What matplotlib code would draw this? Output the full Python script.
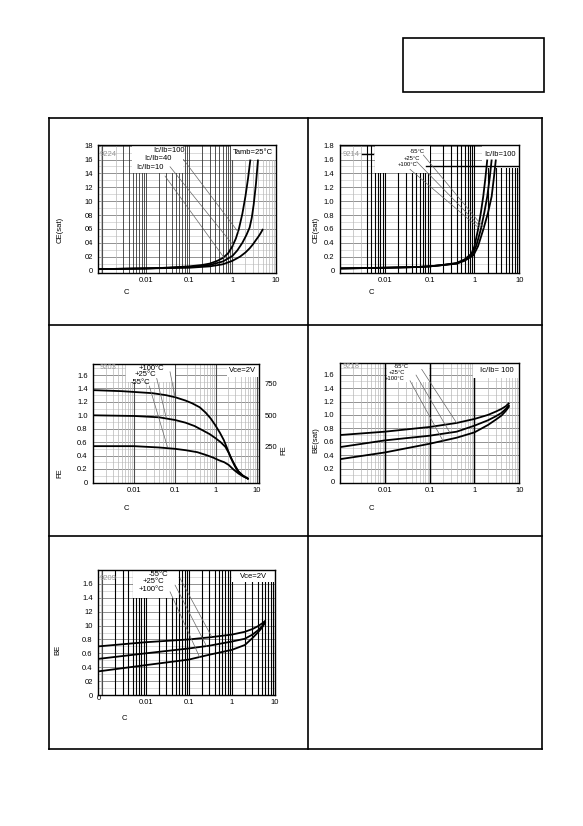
import matplotlib

matplotlib.use("Agg")
import matplotlib.pyplot as plt
from matplotlib.lines import Line2D
from matplotlib.patches import Rectangle

plt.rcParams["font.family"] = ["Liberation Sans", "DejaVu Sans"]

W, H = 583, 826
FS = 5.5

# ---- chart 1: VCE(sat) vs IC, three IC/IB ratios, Tamb = 25 C
IC_R100 = [0.0008, 0.003, 0.01, 0.03, 0.1, 0.2, 0.3, 0.45, 0.6, 0.8, 1.0, 1.2, 1.4, 1.7, 2.0, 2.3, 2.6]
VCE_R100 = [0.02, 0.025, 0.03, 0.04, 0.06, 0.08, 0.10, 0.14, 0.18, 0.25, 0.35, 0.46, 0.59, 0.82, 1.07, 1.33, 1.60]
IC_R40 = [0.0008, 0.01, 0.1, 0.3, 0.6, 1.0, 1.3, 1.7, 2.1, 2.5, 2.8, 3.1, 3.5, 3.9]
VCE_R40 = [0.02, 0.03, 0.05, 0.08, 0.13, 0.21, 0.29, 0.40, 0.51, 0.62, 0.76, 0.95, 1.25, 1.60]
IC_R10 = [0.0008, 0.01, 0.1, 0.3, 0.6, 1.0, 1.5, 2.0, 2.5, 3.0, 3.5, 4.0, 4.5, 5.1]
VCE_R10 = [0.02, 0.03, 0.04, 0.06, 0.09, 0.14, 0.20, 0.26, 0.32, 0.38, 0.44, 0.49, 0.54, 0.60]
C1_YTICKS = [0, 0.2, 0.4, 0.6, 0.8, 1.0, 1.2, 1.4, 1.6, 1.8]
C1_YLABELS = ["0", "02", "04", "06", "08", "10", "12", "14", "16", "18"]

# ---- chart 2: VCE(sat) vs IC at three temperatures, IC/IB = 100
IC2_P100 = [0.001, 0.01, 0.05, 0.1, 0.2, 0.4, 0.6, 0.85, 1.0, 1.2, 1.4, 1.57, 1.75, 1.93]
VCE2_P100 = [0.03, 0.04, 0.05, 0.06, 0.08, 0.11, 0.16, 0.24, 0.35, 0.59, 0.85, 1.07, 1.33, 1.60]
IC2_P25 = [0.001, 0.01, 0.05, 0.1, 0.2, 0.4, 0.6, 0.9, 1.1, 1.38, 1.65, 1.93, 2.2, 2.42]
VCE2_P25 = [0.03, 0.04, 0.05, 0.06, 0.08, 0.10, 0.15, 0.23, 0.36, 0.59, 0.83, 1.07, 1.35, 1.60]
IC2_M55 = [0.001, 0.01, 0.05, 0.1, 0.2, 0.4, 0.6, 0.95, 1.2, 1.57, 2.0, 2.42, 2.7, 3.0]
VCE2_M55 = [0.03, 0.04, 0.05, 0.06, 0.08, 0.10, 0.14, 0.22, 0.35, 0.59, 0.83, 1.07, 1.33, 1.60]
C2_YTICKS = [0, 0.2, 0.4, 0.6, 0.8, 1.0, 1.2, 1.4, 1.6, 1.8]
C2_YLABELS = ["0", "0.2", "0.4", "0.6", "0.8", "1.0", "1.2", "1.4", "1.6", "1.8"]

# ---- chart 3: normalised hFE vs IC, VCE = 2V
IC3_P100 = [0.001, 0.005, 0.028, 0.06, 0.1, 0.18, 0.26, 0.4, 0.56, 0.75, 0.97,
            1.25, 1.56, 1.9, 2.26, 2.8, 3.3, 4.5, 6.3]
HFE3_P100 = [1.375, 1.36, 1.33, 1.30, 1.27, 1.22, 1.18, 1.12, 1.04, 0.95, 0.85,
             0.74, 0.63, 0.50, 0.38, 0.26, 0.18, 0.10, 0.05]
IC3_P25 = [0.001, 0.01, 0.041, 0.1, 0.18, 0.3, 0.46, 0.7, 0.97, 1.3, 1.7, 2.1,
           2.5, 3.0, 3.6, 4.6, 6.3]
HFE3_P25 = [1.0, 0.99, 0.97, 0.93, 0.89, 0.84, 0.78, 0.72, 0.66, 0.60, 0.53, 0.43,
            0.33, 0.24, 0.16, 0.10, 0.05]
IC3_M55 = [0.001, 0.01, 0.041, 0.1, 0.18, 0.35, 0.56, 0.85, 1.18, 1.6, 2.05, 2.7,
           3.6, 4.6, 6.3]
HFE3_M55 = [0.54, 0.54, 0.52, 0.50, 0.48, 0.45, 0.41, 0.37, 0.33, 0.30, 0.26, 0.19,
            0.13, 0.09, 0.05]
C3_YTICKS = [0, 0.2, 0.4, 0.6, 0.8, 1.0, 1.2, 1.4, 1.6]
C3_YLABELS = ["0", "0.2", "0.4", "0.6", "0.8", "1.0", "1.2", "1.4", "1.6"]
C3_RTICKS = [250, 500, 750]

# ---- chart 4: VBE(sat) vs IC, IC/IB = 100
IC4 = [0.001, 0.01, 0.1, 0.4, 1, 2, 3, 4, 5, 6]
VBES_M55 = [0.70, 0.75, 0.82, 0.88, 0.94, 1.00, 1.05, 1.09, 1.13, 1.18]
VBES_P25 = [0.52, 0.62, 0.69, 0.75, 0.84, 0.92, 0.98, 1.03, 1.09, 1.15]
VBES_P100 = [0.34, 0.44, 0.57, 0.66, 0.74, 0.85, 0.93, 0.99, 1.06, 1.13]
C4_YTICKS = [0, 0.2, 0.4, 0.6, 0.8, 1.0, 1.2, 1.4, 1.6]
C4_YLABELS = ["0", "0.2", "0.4", "0.6", "0.8", "1.0", "1.2", "1.4", "1.6"]

# ---- chart 5: VBE vs IC, VCE = 2V
IC5 = [0.0008, 0.01, 0.1, 0.3, 1, 2, 3, 4, 5, 6]
VBE_M55 = [0.70, 0.76, 0.80, 0.83, 0.87, 0.91, 0.95, 0.99, 1.03, 1.07]
VBE_P25 = [0.52, 0.60, 0.67, 0.71, 0.77, 0.81, 0.87, 0.93, 0.99, 1.06]
VBE_P100 = [0.34, 0.43, 0.51, 0.58, 0.65, 0.72, 0.82, 0.90, 0.97, 1.05]
C5_YTICKS = [0, 0.2, 0.4, 0.6, 0.8, 1.0, 1.2, 1.4, 1.6]
C5_YLABELS = ["0", "02", "0.4", "0.6", "0.8", "10", "12", "1.4", "1.6"]

XTICKS = [0.01, 0.1, 1, 10]
XLABELS = ["0.01", "0.1", "1", "10"]

fig = plt.figure(figsize=(W / 100, H / 100), dpi=100)


def fx(x, y):
    return (x / W, 1 - y / H)


def ftext(x, y, s, **kw):
    kw.setdefault("fontsize", FS)
    fig.text(x / W, 1 - y / H, s, **kw)


def fline(x0, y0, x1, y1, lw=1.2):
    fig.add_artist(Line2D([x0 / W, x1 / W], [1 - y0 / H, 1 - y1 / H],
                          transform=fig.transFigure, color="k", lw=lw))


def new_axes(x0, y0, x1, y1, xlim, ylim, yticks, ylabels, dark=None,
             dark_style=("k", 0.8)):
    ax = fig.add_axes([x0 / W, 1 - y1 / H, (x1 - x0) / W, (y1 - y0) / H])
    ax.set_xscale("log")
    ax.set_xlim(*xlim)
    ax.set_ylim(*ylim)
    ax.set_xticks(XTICKS, XLABELS)
    ax.minorticks_off()
    ax.set_yticks(yticks, ylabels)
    ax.tick_params(length=0, labelsize=FS)
    ax.tick_params(axis="x", pad=3)
    ax.tick_params(axis="y", pad=4)
    for s in ax.spines.values():
        s.set_linewidth(1.0)
    # printed log grid of the datasheet
    for e in range(-4, 2):
        for k in range(1, 10):
            x = k * 10.0 ** e
            if not (xlim[0] < x < xlim[1]):
                continue
            if dark and dark[0] <= x <= dark[1]:
                c, lw = dark_style
            elif k == 1:
                c, lw = "0.3", 0.8
            else:
                c, lw = "0.72", 0.5
            ax.axvline(x, color=c, lw=lw, zorder=0.6)
    for i in range(1, int(ylim[1] * 10) + 1):
        ax.axhline(i / 10, color="0.5" if i % 2 == 0 else "0.78",
                   lw=0.6 if i % 2 == 0 else 0.45, zorder=0.5)
    return ax


def white(ax, x0, y0, x1, y1):
    ax.add_patch(Rectangle(fx(x0, y1), (x1 - x0) / W, (y1 - y0) / H,
                           transform=fig.transFigure, facecolor="white",
                           edgecolor="none", zorder=1))


def leader(ax, x0, y0, xy):
    ax.annotate("", xy=xy, xycoords="data", xytext=fx(x0, y0),
                textcoords="figure fraction", annotation_clip=False,
                arrowprops=dict(arrowstyle="-", lw=0.5, color="0.4",
                                shrinkA=0, shrinkB=0))


def curve(ax, x, y):
    ax.plot(x, y, color="k", lw=1.3, zorder=3, solid_capstyle="butt",
            solid_joinstyle="round")


# ---- page frame
fline(49.3, 118.3, 542.3, 118.3)
fline(49.3, 749.3, 542.3, 749.3)
fline(49.3, 118.3, 49.3, 749.3)
fline(542.3, 118.3, 542.3, 749.3)
fline(308.3, 118.3, 308.3, 749.3)
fline(49.3, 325, 542.3, 325)
fline(49.3, 535.7, 542.3, 535.7)
fig.add_artist(Rectangle(fx(402.7, 92), (544 - 402.7) / W, (92 - 38.3) / H,
                         transform=fig.transFigure, fill=False, lw=1.2))

# ---- chart 1
ax1 = new_axes(98.3, 145, 275.7, 273.3, (0.0008, 10), (-0.04, 1.81),
               C1_YTICKS, C1_YLABELS, dark=(0.003, 0.9), dark_style=("0.2", 0.6))
white(ax1, 131.7, 145, 183.3, 173.3)
white(ax1, 230.5, 145, 275.7, 160)
curve(ax1, IC_R100, VCE_R100)
curve(ax1, IC_R40, VCE_R40)
curve(ax1, IC_R10, VCE_R10)
leader(ax1, 183.3, 159.3, (1.42, 0.54))
leader(ax1, 170, 166.7, (1.09, 0.35))
leader(ax1, 165, 176, (0.65, 0.18))
ftext(153, 151, "Ic/Ib=100", va="center")
ftext(144, 159, "Ic/Ib=40", va="center")
ftext(136, 167.3, "Ic/Ib=10", va="center")
ftext(253, 153, "Tamb=25°C", ha="center", va="center")
ftext(100, 154, "9224", va="center", color="0.6")
ftext(60, 230, "CE(sat)", rotation=90, ha="center", va="center")
ftext(126, 292, "C", ha="center", va="center")

# ---- chart 2
ax2 = new_axes(340, 145, 519.3, 273.3, (0.001, 10), (-0.04, 1.81),
               C2_YTICKS, C2_YLABELS, dark=(0.004, 10))
white(ax2, 375, 145, 430, 173.3)
white(ax2, 481.7, 145, 519.3, 168.3)
ax2.axhline(1.5, xmin=0.48, color="k", lw=1.0, zorder=1.2)
curve(ax2, IC2_P100, VCE2_P100)
curve(ax2, IC2_P25, VCE2_P25)
curve(ax2, IC2_M55, VCE2_M55)
leader(ax2, 423.3, 155, (1.6, 0.62))
leader(ax2, 416.7, 161.7, (1.4, 0.62))
leader(ax2, 410, 169.3, (1.22, 0.62))
ftext(410, 151.7, "-55°C", va="center", fontsize=4.2)
ftext(404, 158.3, "+25°C", va="center", fontsize=4.2)
ftext(397.5, 164.3, "+100°C", va="center", fontsize=4.2)
ftext(500, 155, "Ic/Ib=100", ha="center", va="center")
ftext(343, 154, "9214", va="center", color="0.6")
fig.add_artist(Line2D([361.7 / W, 373.3 / W], [1 - 154 / H] * 2,
                      transform=fig.transFigure, color="k", lw=1.0))
ftext(316, 230, "CE(sat)", rotation=90, ha="center", va="center")
ftext(371, 292, "C", ha="center", va="center")

# ---- chart 3 (left: normalised, right: absolute hFE)
ax3 = new_axes(93.3, 364, 259.3, 482.7, (0.001, 11.5), (-0.005, 1.765),
               C3_YTICKS, C3_YLABELS)
white(ax3, 126, 364, 175, 381.7)
white(ax3, 226.7, 364, 259.3, 376.7)
curve(ax3, IC3_P100, HFE3_P100)
curve(ax3, IC3_P25, HFE3_P25)
curve(ax3, IC3_M55, HFE3_M55)
leader(ax3, 170, 371.7, (0.1, 1.27))
leader(ax3, 156.7, 378.3, (0.061, 0.96))
leader(ax3, 149.3, 386, (0.065, 0.53))
ax3r = ax3.twinx()
ax3r.set_ylim(532 * -0.005 - 32, 532 * 1.765 - 32)
ax3r.set_yticks(C3_RTICKS, [str(v) for v in C3_RTICKS])
ax3r.tick_params(length=0, labelsize=FS, pad=4)
for s in ax3r.spines.values():
    s.set_visible(False)
ftext(151.7, 368.3, "+100°C", ha="center", va="center")
ftext(145, 375, "+25°C", ha="center", va="center")
ftext(140, 382.3, "-55°C", ha="center", va="center")
ftext(243, 370, "Vce=2V", ha="center", va="center")
ftext(100, 367.3, "9203", va="center", color="0.6")
ftext(60, 473, "FE", rotation=90, ha="center", va="center")
ftext(283.5, 450, "FE", rotation=90, ha="center", va="center")
ftext(126, 508, "C", ha="center", va="center")

# ---- chart 4
ax4 = new_axes(340, 363.3, 519.3, 483.3, (0.001, 10), (-0.02, 1.77),
               C4_YTICKS, C4_YLABELS)
for x in (0.01, 0.1, 1):
    ax4.axvline(x, color="k", lw=1.0, zorder=0.7)
white(ax4, 386.7, 363.3, 429.3, 381.7)
white(ax4, 473.3, 363.3, 519.3, 378.3)
curve(ax4, IC4, VBES_M55)
curve(ax4, IC4, VBES_P25)
curve(ax4, IC4, VBES_P100)
leader(ax4, 421.7, 369.3, (0.4, 0.88))
leader(ax4, 416, 375, (0.28, 0.74))
leader(ax4, 410, 380.7, (0.2, 0.61))
ftext(401.7, 366.7, "-55°C", ha="center", va="center", fontsize=4.2)
ftext(397.3, 372.7, "+25°C", ha="center", va="center", fontsize=4.2)
ftext(395, 378.7, "+100°C", ha="center", va="center", fontsize=4.2)
ftext(497, 370.7, "Ic/Ib= 100", ha="center", va="center")
ftext(343, 367, "9218", va="center", color="0.6")
ftext(316, 440, "BE(sat)", rotation=90, ha="center", va="center")
ftext(371, 508, "C", ha="center", va="center")

# ---- chart 5
ax5 = new_axes(98.3, 570, 275, 695, (0.0008, 10), (0, 1.8),
               C5_YTICKS, C5_YLABELS, dark=(0.002, 10))
white(ax5, 133.3, 570, 178.3, 598.3)
white(ax5, 231.7, 570, 275, 581.7)
curve(ax5, IC5, VBE_M55)
curve(ax5, IC5, VBE_P25)
curve(ax5, IC5, VBE_P100)
leader(ax5, 180, 578.3, (0.34, 0.84))
leader(ax5, 175, 585, (0.26, 0.70))
leader(ax5, 170, 591.7, (0.18, 0.54))
ftext(158.3, 575, "-55°C", ha="center", va="center")
ftext(153.3, 581.7, "+25°C", ha="center", va="center")
ftext(151.7, 589.3, "+100°C", ha="center", va="center")
ftext(253.3, 576, "Vce=2V", ha="center", va="center")
ftext(100, 578.3, "9209", va="center", color="0.6")
ftext(97, 698, "0", ha="left", va="center")
ftext(58, 650, "BE", rotation=90, ha="center", va="center")
ftext(124, 718, "C", ha="center", va="center")

fig.savefig("out.png", dpi=100)
